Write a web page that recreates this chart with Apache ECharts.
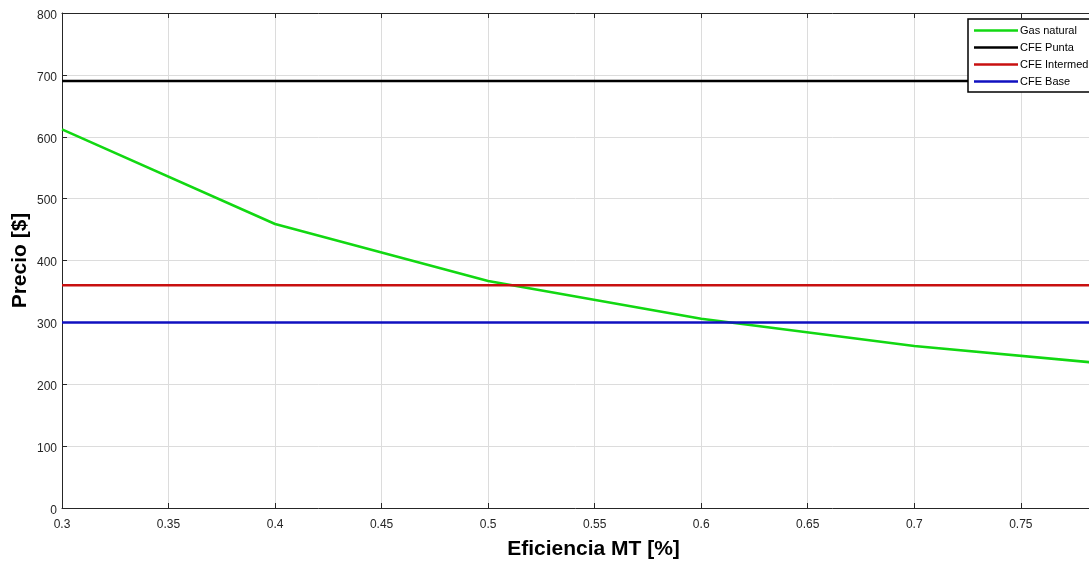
<!DOCTYPE html>
<html><head><meta charset="utf-8">
<script src="https://cdn.jsdelivr.net/npm/echarts@6/dist/echarts.min.js"></script>
<style>html,body{margin:0;padding:0;background:#fff}#c{width:1089px;height:561px}</style>
</head><body><div id="c"></div>
<script>
const efficiency = [0.3, 0.4, 0.5, 0.6, 0.7, 0.8];
const gasNatural = [612, 459, 367, 306, 262, 230];
const cfePunta = 690;
const cfeIntermedia = 360;
const cfeBase = 300;
const xRange = [0.3, 0.782];
const seriesNames = ['Gas natural', 'CFE Punta', 'CFE Intermedia', 'CFE Base'];
const colors = ['#12d812', '#000000', '#c81010', '#1010c0'];

const font = 'Liberation Sans, Arial, Helvetica, sans-serif';
const flat = v => [[xRange[0], v], [xRange[1], v]];

const chart = echarts.init(document.getElementById('c'));
chart.setOption({
  animation: false,
  backgroundColor: '#fff',
  grid: { left: 62, top: 13, right: 0, bottom: 53, containLabel: false, outerBoundsMode: 'none' },
  legend: {
    left: 968, top: 19, orient: 'vertical', icon: 'rect',
    backgroundColor: '#fff', borderColor: '#000', borderWidth: 1.5,
    padding: [5, 4, 4, 6], itemWidth: 44, itemHeight: 2.5, itemGap: 4,
    textStyle: { fontFamily: font, fontSize: 11, color: '#000', lineHeight: 13, padding: [0,0,0,-3] },
    data: seriesNames
  },
  xAxis: [{
    type: 'value', min: xRange[0], max: xRange[1], interval: 0.05,
    name: 'Eficiencia MT [%]', nameLocation: 'middle', nameGap: 31, nameMoveOverlap: false,
    nameTextStyle: { fontFamily: font, fontSize: 21, fontWeight: 'bold', color: '#000', padding: [0,0,0,36] },
    axisLine: { show: true, lineStyle: { color: '#262626', width: 1 } },
    axisTick: { show: true, inside: true, length: 5, lineStyle: { color: '#262626' } },
    axisLabel: { fontFamily: font, fontSize: 12, color: '#262626', margin: 11, showMaxLabel: false,
      formatter: v => String(Math.round(v * 100) / 100) },
    splitLine: { show: true, showMaxLine: false, lineStyle: { color: '#dcdcdc', width: 1 } }
  }, {
    type: 'value', position: 'top', min: xRange[0], max: xRange[1], interval: 0.05,
    axisLine: { show: true, lineStyle: { color: '#262626', width: 1 } },
    axisTick: { show: true, inside: true, length: 5, lineStyle: { color: '#262626' } },
    axisLabel: { show: false }, splitLine: { show: false }
  }],
  yAxis: {
    type: 'value', min: 0, max: 800, interval: 100,
    name: 'Precio [$]', nameLocation: 'middle', nameGap: 31, nameMoveOverlap: false,
    nameTextStyle: { fontFamily: font, fontSize: 21, fontWeight: 'bold', color: '#000' },
    axisLine: { show: true, lineStyle: { color: '#262626', width: 1 } },
    axisTick: { show: true, inside: true, length: 5, lineStyle: { color: '#262626' } },
    axisLabel: { fontFamily: font, fontSize: 12, color: '#262626', margin: 5,
      formatter: v => '{a|' + v + '}',
      rich: { a: { fontFamily: font, fontSize: 12, color: '#262626', padding: [5, 0, 0, 0] } } },
    splitLine: { show: true, lineStyle: { color: '#dcdcdc', width: 1 } }
  },
  series: [
    { name: seriesNames[0], type: 'line', symbol: 'none', color: colors[0],
      lineStyle: { width: 2.5 }, data: efficiency.map((x, i) => [x, gasNatural[i]]), z: 3 },
    { name: seriesNames[1], type: 'line', symbol: 'none', color: colors[1],
      lineStyle: { width: 2.5 }, data: flat(cfePunta) },
    { name: seriesNames[2], type: 'line', symbol: 'none', color: colors[2],
      lineStyle: { width: 2.5 }, data: flat(cfeIntermedia) },
    { name: seriesNames[3], type: 'line', symbol: 'none', color: colors[3],
      lineStyle: { width: 2.5 }, data: flat(cfeBase) }
  ]
});
</script></body></html>
